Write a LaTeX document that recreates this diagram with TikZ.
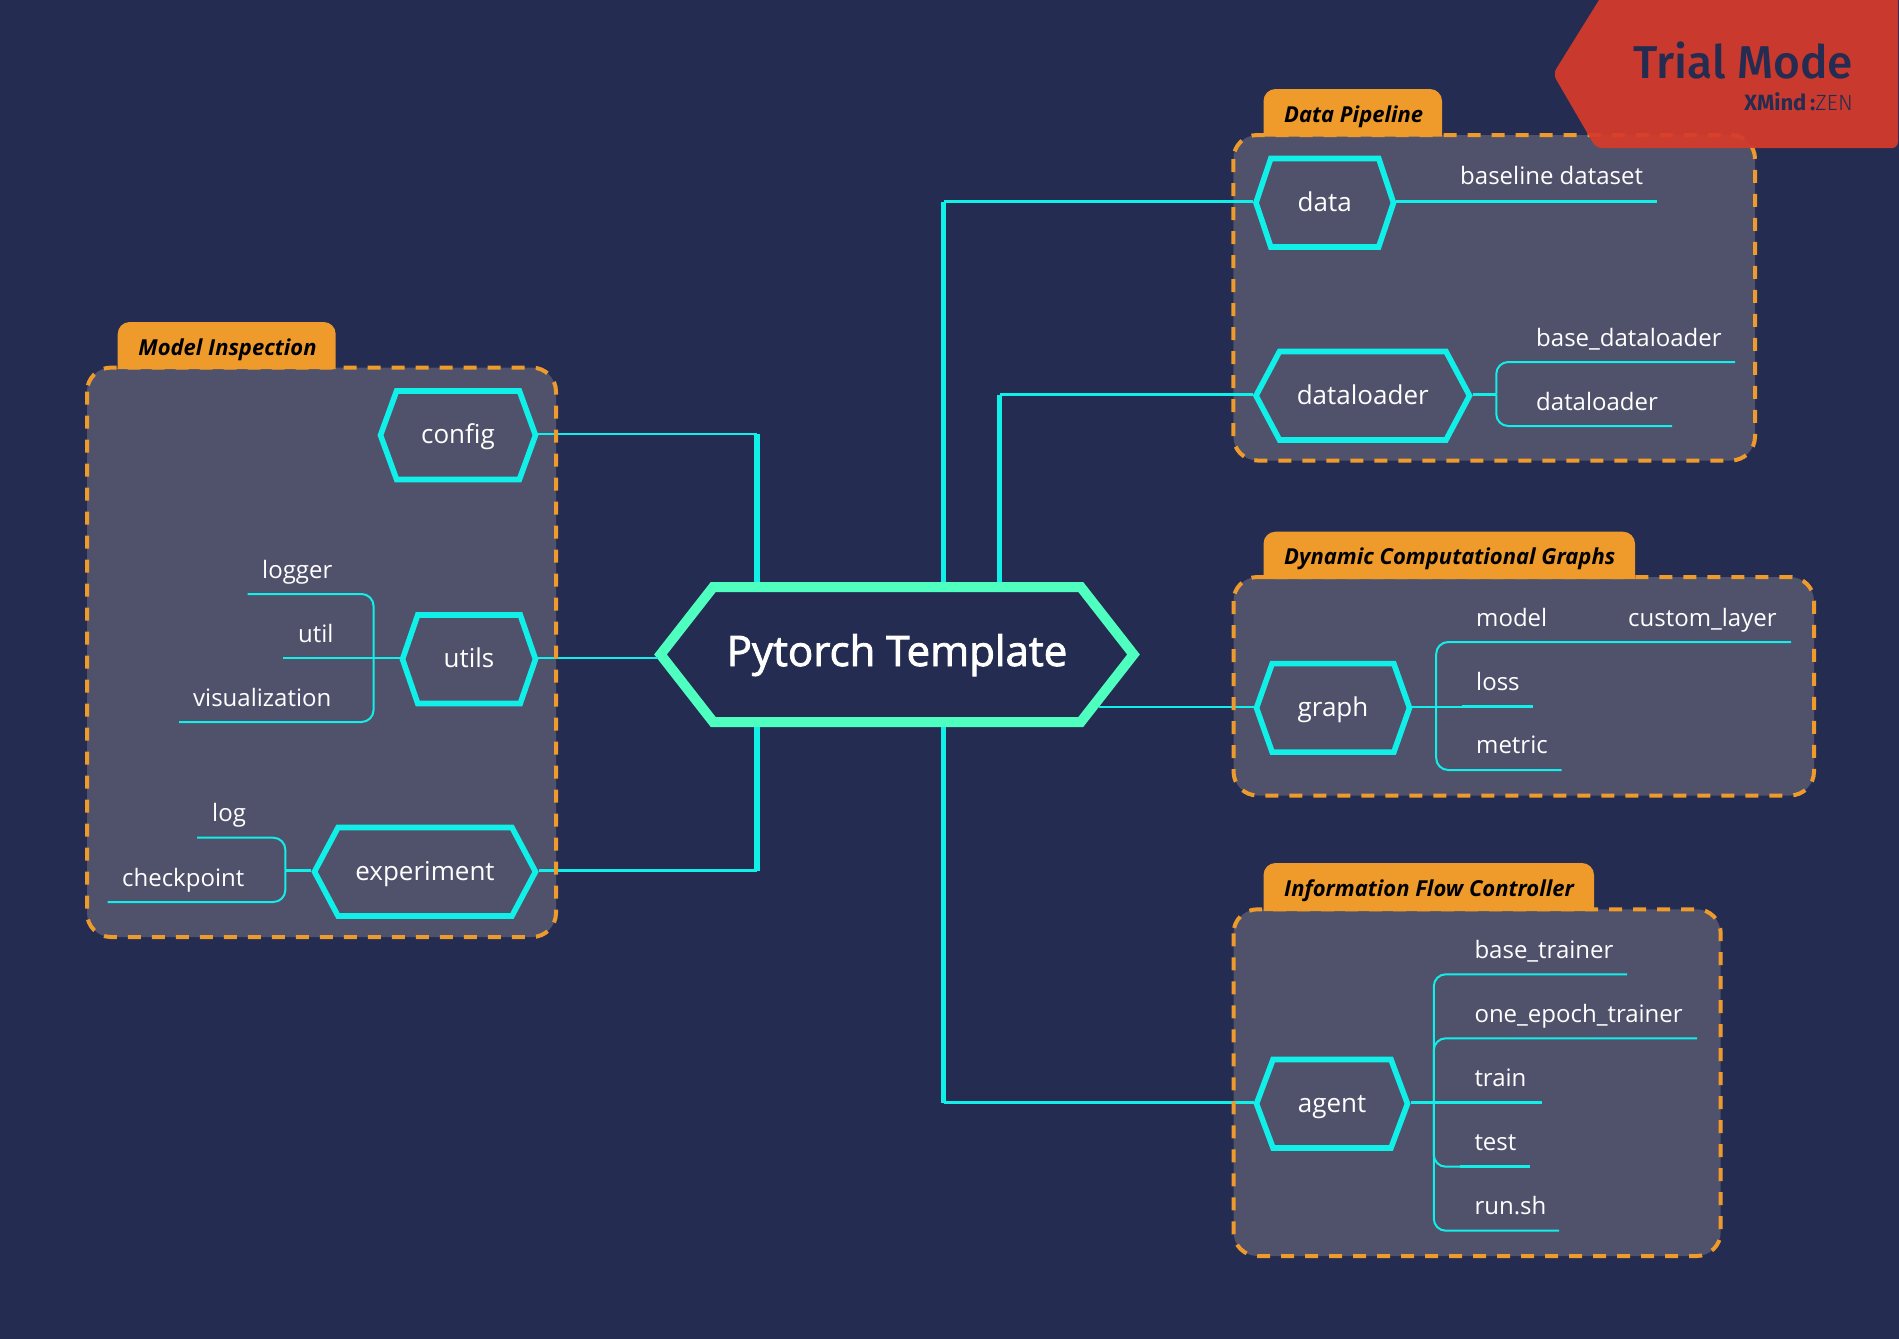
\documentclass[tikz,border=0pt]{standalone}
\usepackage{fontspec}
\setmainfont{Open Sans}
\newfontfamily\rootfont[FakeBold=2]{Open Sans}
\newfontface\trialfont{Fira Sans Medium}
\newfontfamily\xmindfont{Fira Sans}
\newfontface\zenfont{Fira Sans Light}
\usetikzlibrary{shapes.symbols,positioning}
\definecolor{bgcol}{HTML}{242C51}
\definecolor{boxcol}{HTML}{50526B}
\definecolor{orangecol}{HTML}{EE9B2B}
\definecolor{cyancol}{HTML}{10EFE8}
\definecolor{rootcol}{HTML}{4FFFC0}
\definecolor{redcol}{HTML}{D63B2B}
\tikzstyle{hexnode}=[signal,signal to=east and west,draw=cyancol,line width=5.6pt,text=white,minimum height=88.5pt,inner sep=0pt,text height=22pt,text depth=5pt,yshift=-1.2pt,font=\fontsize{26}{30}\selectfont]
\tikzstyle{rootnode}=[hexnode,draw=rootcol,line width=10pt,minimum height=135pt,signal pointer angle=104,text height=32pt,text depth=9pt,yshift=1.2pt,font=\fontsize{42}{48}\selectfont\rootfont]
\tikzstyle{leaf}=[anchor=base west,inner sep=0pt,text=white,font=\fontsize{24}{29}\selectfont]
\tikzstyle{groupfill}=[fill=boxcol,rounded corners=24pt,inner sep=0pt,outer sep=0pt]
\tikzstyle{groupedge}=[draw=orangecol,line width=4pt,dash pattern=on 13pt off 11pt,rounded corners=24pt]
\tikzstyle{trunk}=[draw=cyancol,line width=5.5pt]
\tikzstyle{limb}=[draw=cyancol,line width=2.4pt]
\tikzstyle{twig}=[draw=cyancol,line width=2pt,rounded corners=12pt]
\tikzstyle{twigbold}=[draw=cyancol,line width=3.4pt]
\newcommand{\grouptab}[6]{%
  \fill[orangecol] (#2,#5) [rounded corners=12pt] -- (#2,#3) -- (#4,#3) [sharp corners] -- (#4,#5) -- cycle;
  \node (#1) [anchor=base west,inner sep=0pt,text=black,font=\fontsize{22}{26}\selectfont\bfseries\itshape] at (#2+20.5,#3+33) {#6};}
\begin{document}
\begin{tikzpicture}[x=1pt,y=-1pt,node distance=26pt]
    \fill[bgcol] (0,0) rectangle (1899,1339);
    \useasboundingbox (0,0) rectangle (1899,1339);

    \node (insp) [groupfill,minimum width=469pt,minimum height=569.4pt] at (321.5,652.3) {};
    \node (pipe) [groupfill,minimum width=521.6pt,minimum height=325.5pt] at (1494.2,297.75) {};
    \node (dyn) [groupfill,minimum width=580.5pt,minimum height=218.5pt] at (1523.75,686.25) {};
    \node (flow) [groupfill,minimum width=487.2pt,minimum height=346.7pt] at (1477.1,1082.65) {};

    \node (root) [rootnode,minimum width=473pt] at (897,654.5) {Pytorch Template};
    \node (config) [hexnode,minimum width=155pt,signal pointer angle=140] at (458,434) {config};
    \node (utils) [hexnode,minimum width=133pt,signal pointer angle=142] at (469,658) {utils};
    \node (experiment) [hexnode,minimum width=221pt,signal pointer angle=124] at (425,870.5) {experiment};
    \node (data) [hexnode,minimum width=137.5pt,signal pointer angle=143] at (1324.75,201.5) {data};
    \node (dataloader) [hexnode,minimum width=213.5pt,signal pointer angle=124] at (1362.75,394.5) {dataloader};
    \node (graph) [hexnode,minimum width=153pt,signal pointer angle=141] at (1333,706.7) {graph};
    \node (agent) [hexnode,minimum width=151pt,signal pointer angle=139] at (1332,1102.5) {agent};

    \node (logger) [leaf] at (262,578) {logger};
    \node (util) [leaf] at (298,642) {util};
    \node (vis) [leaf] at (193,706) {visualization};
    \node (log) [leaf] at (212,821.7) {log};
    \node (ckpt) [leaf] at (122,886) {checkpoint};
    \node (baseline) [leaf] at (1460,184.5) {baseline dataset};
    \node (baseloader) [leaf] at (1536,346) {base\_dataloader};
    \node (loader) [leaf] at (1536,410) {dataloader};
    \node (model) [leaf] at (1476,626) {model};
    \node (custom) [leaf] at (1628,626) {custom\_layer};
    \node (loss) [leaf] at (1476,690) {loss};
    \node (metric) [leaf] at (1476,753.7) {metric};
    \node (basetrain) [leaf] at (1474.3,958) {base\_trainer};
    \node (oneepoch) [leaf] at (1474.3,1022) {one\_epoch\_trainer};
    \node (train) [leaf] at (1474.3,1086) {train};
    \node (test) [leaf] at (1474.3,1150) {test};
    \node (run) [leaf] at (1474.3,1214) {run.sh};

    \node (cfgbend) [coordinate] at (757,434) {};
    \node (expbend) [coordinate] at (757,870.5) {};
    \node (databend) [coordinate] at (943.7,201.5) {};
    \node (loadbend) [coordinate] at (999.6,394.5) {};
    \node (agentbend) [coordinate] at (943.7,1102.5) {};
    \node (graphj) [coordinate] at (1099,706.7) {};

    \node (utilsstem) [left=26pt of utils,yshift=1.2pt,coordinate]{};
    \node (expstem) [left=26pt of experiment,yshift=1.2pt,coordinate]{};
    \node (loadstem) [right=23.6pt of dataloader,yshift=1.2pt,coordinate]{};
    \node (graphstem) [right=23.7pt of graph,yshift=1.2pt,coordinate]{};
    \node (agentstem) [right=23.3pt of agent,yshift=1.2pt,coordinate]{};

    \node (loggere) [coordinate] at (247.7,594) {};
    \node (utile) [coordinate] at (283,658) {};
    \node (vise) [coordinate] at (179,722) {};
    \node (loge) [coordinate] at (197,837.7) {};
    \node (ckpte) [coordinate] at (107.7,902) {};
    \node (baselinee) [coordinate] at (1657,201.5) {};
    \node (baseloadere) [coordinate] at (1735,362) {};
    \node (loadere) [coordinate] at (1672,426) {};
    \node (custome) [coordinate] at (1791,642) {};
    \node (lossm) [coordinate] at (1461.7,706.7) {};
    \node (losse) [coordinate] at (1533,706.7) {};
    \node (metrice) [coordinate] at (1561.7,770) {};
    \node (basetraine) [coordinate] at (1627,974.3) {};
    \node (oneepoche) [coordinate] at (1697,1038.3) {};
    \node (trainm) [coordinate] at (1460,1102.5) {};
    \node (traine) [coordinate] at (1541.7,1102.5) {};
    \node (testm) [coordinate] at (1460,1166.7) {};
    \node (teste) [coordinate] at (1530,1166.7) {};
    \node (rune) [coordinate] at (1559,1230.7) {};

    \path[trunk]
    		(root.north -| cfgbend) edge (cfgbend)
    		(root.south -| expbend) edge (expbend)
    		(root.north -| databend) edge (databend)
    		(root.north -| loadbend) edge (loadbend)
    		(root.south -| agentbend) edge (agentbend);
    \path[limb]
    		(cfgbend) edge (config.east |- cfgbend)
    		(expbend) edge (experiment.east |- expbend)
    		(databend) edge (data.west |- databend)
    		(loadbend) edge (dataloader.west |- loadbend)
    		(agentbend) edge (agent.west |- agentbend)
    		(graphj) edge (graph.west |- graphj)
    		([xshift=4pt]root.west |- utile) edge (utils.east |- utile)
    		(data.east |- baselinee) edge (baselinee)
    		(utils.west |- utile) edge (utile)
    		(experiment.west |- expstem) edge (expstem)
    		(dataloader.east |- loadstem) edge (loadstem)
    		(graph.east |- lossm) edge (lossm)
    		(agent.east |- trainm) edge (trainm);
    \draw[twig] (utilsstem) |- (loggere);
    \draw[twig] (utilsstem) |- (vise);
    \draw[twig] (expstem) |- (loge);
    \draw[twig] (expstem) |- (ckpte);
    \draw[twig] (loadstem) |- (baseloadere);
    \draw[twig] (loadstem) |- (loadere);
    \draw[twig] (graphstem) |- (custome);
    \draw[twig] (graphstem) |- (metrice);
    \draw[twig] (agentstem) |- (basetraine);
    \draw[twig] (agentstem) |- (oneepoche);
    \draw[twig] (agentstem) |- (testm);
    \draw[twig] (agentstem) |- (rune);
    \path[twigbold]
    		(lossm) edge (losse)
    		(trainm) edge (traine)
    		(testm) edge (teste);

    \draw[groupedge] (insp.north west) rectangle (insp.south east);
    \draw[groupedge] (pipe.north west) rectangle (pipe.south east);
    \draw[groupedge] (dyn.north west) rectangle (dyn.south east);
    \draw[groupedge] (flow.north west) rectangle (flow.south east);

    \grouptab{insptab}{117.7}{322}{335.7}{369}{Model Inspection}
    \grouptab{pipetab}{1263.5}{89}{1442}{136.5}{Data Pipeline}
    \grouptab{dyntab}{1263.5}{531.7}{1635}{579}{Dynamic Computational Graphs}
    \grouptab{flowtab}{1263.5}{863}{1594}{911}{Information Flow Controller}

    \fill[redcol,opacity=0.93,rounded corners=6pt] (1604,-8) -- (1553,74) -- (1596,148) -- (1898,148) -- (1898,-8) -- cycle;
    \node (trial) [anchor=base east,inner sep=0pt,text=bgcol,font=\fontsize{46}{50}\selectfont\trialfont] at (1853,78) {Trial Mode};
    \node (xmind) [anchor=base east,inner sep=0pt,text=bgcol,font=\fontsize{22}{24}\selectfont\xmindfont] at (1853,110) {\textbf{XMind\,:}{\zenfont ZEN}};
\end{tikzpicture}
\end{document}
